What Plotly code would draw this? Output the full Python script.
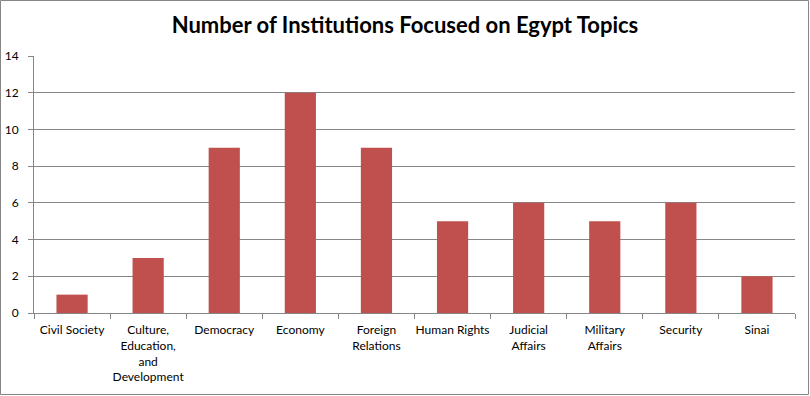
import plotly.graph_objects as go

categories = ["Civil Society", "Culture,<br>Education,<br>and<br>Development", "Democracy", "Economy",
              "Foreign<br>Relations", "Human Rights", "Judicial<br>Affairs", "Military<br>Affairs",
              "Security", "Sinai"]
values = [1, 3, 9, 12, 9, 5, 6, 5, 6, 2]
y_ticks = [0, 2, 4, 6, 8, 10, 12, 14]

W, H = 810, 396
L, R, T, B = 34, 15, 56, 83
pw, ph = W - L - R, H - T - B

fig = go.Figure(go.Bar(x=categories, y=values, marker_color="#C0504D", marker_line_width=0))

fig.update_layout(
    width=W, height=H,
    margin=dict(l=L, r=R, t=T, b=B, autoexpand=False),
    paper_bgcolor="white", plot_bgcolor="white",
    bargap=0.59,
    showlegend=False,
    font=dict(family="Lato, Noto Sans, sans-serif", size=12, color="#000000"),
    title=dict(text="<b>Number of Institutions Focused on Egypt Topics</b>",
               x=0.5, xanchor="center", y=1 - 25 / H, yanchor="middle",
               font=dict(size=22, family="Lato, Noto Sans, sans-serif", color="#000000")),
    xaxis=dict(showline=True, linecolor="#868686", linewidth=1, ticks="outside",
               tickcolor="#868686", ticklen=5, tickson="boundaries", tickangle=0,
               showgrid=False, tickfont=dict(size=12), automargin=False,
               ticklabelstandoff=6),
    yaxis=dict(range=[0, 14], tickvals=y_ticks, showline=True, linecolor="#868686",
               linewidth=1, ticks="outside", tickcolor="#868686", ticklen=5,
               showgrid=True, gridcolor="#868686", gridwidth=1, zeroline=False,
               tickfont=dict(size=12), automargin=False, ticklabelstandoff=7),
    shapes=[dict(type="rect", xref="paper", yref="paper",
                 x0=(0.5 - L) / pw, x1=(W - 1.5 - L) / pw,
                 y0=(H - B - (H - 1.5)) / ph, y1=(H - B - 0.5) / ph,
                 line=dict(color="#868686", width=1))],
)

fig.write_html("out.html", config={"displayModeBar": False},
               post_script="document.body.style.margin='0';")
